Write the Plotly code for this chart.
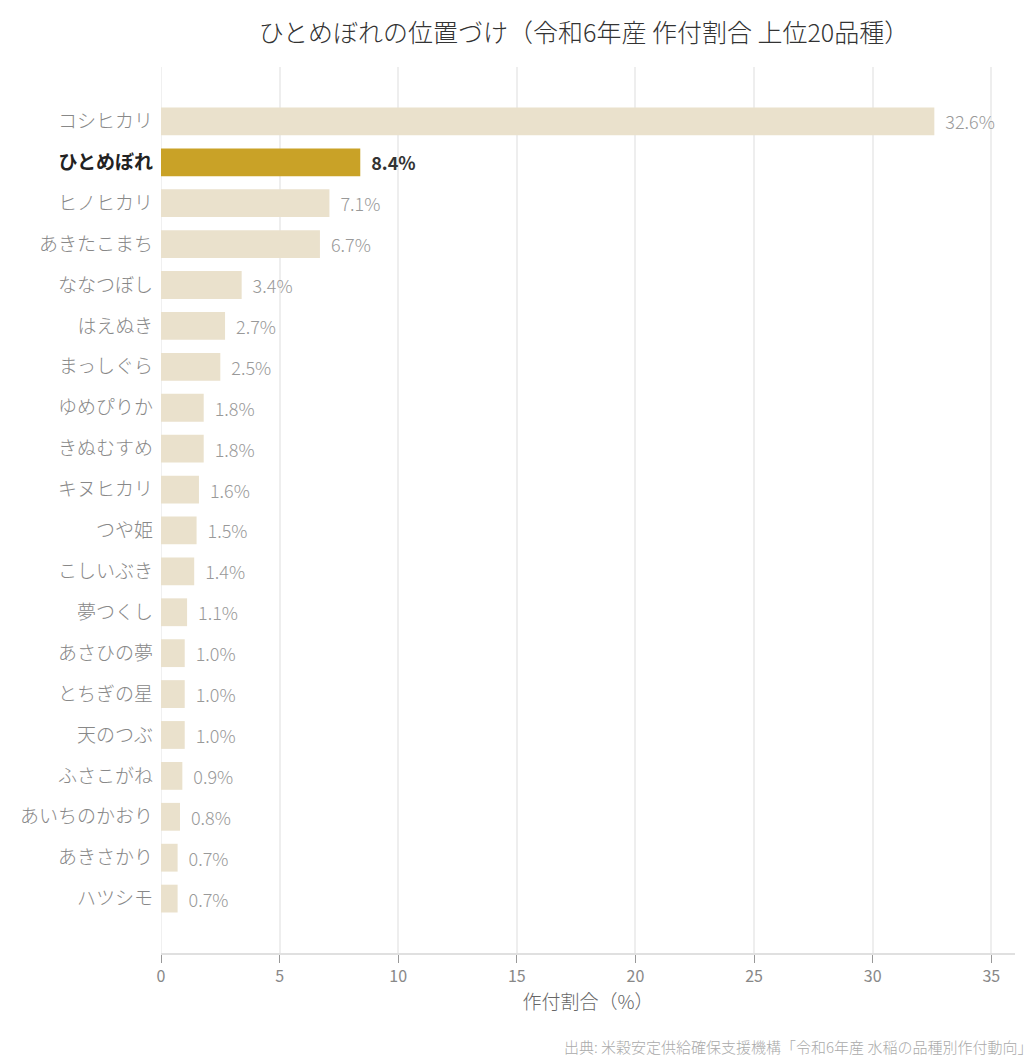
import plotly.graph_objects as go

varieties = ["コシヒカリ", "ひとめぼれ", "ヒノヒカリ", "あきたこまち", "ななつぼし", "はえぬき",
             "まっしぐら", "ゆめぴりか", "きぬむすめ", "キヌヒカリ", "つや姫", "こしいぶき",
             "夢つくし", "あさひの夢", "とちぎの星", "天のつぶ", "ふさこがね", "あいちのかおり",
             "あきさかり", "ハツシモ"]
shares = [32.6, 8.4, 7.1, 6.7, 3.4, 2.7, 2.5, 1.8, 1.8, 1.6, 1.5, 1.4, 1.1, 1.0, 1.0, 1.0,
          0.9, 0.8, 0.7, 0.7]
highlight = "ひとめぼれ"
x_ticks = [0, 5, 10, 15, 20, 25, 30, 35]

FONT = "Noto Sans CJK JP"
HL = "#C9A227"
BASE = "#EAE1CC"

# page has an 8px body offset; compensate so the figure lands where the reference is
OFF = 8
W, H = 1036 - OFF, 1064 - OFF
PLOT_W = 1015 - 161
PLOT_H = 953 - 67

colors = [HL if v == highlight else BASE for v in varieties]
texts = [("&nbsp;&nbsp;<b>%.1f%%</b>" % s) if v == highlight else ("&nbsp;&nbsp;%.1f%%" % s)
         for v, s in zip(varieties, shares)]
text_colors = ["#333333" if v == highlight else "#999999" for v in varieties]
ticktext = [(f'<span style="color:#222222"><b>{v}</b></span>' if v == highlight else v) for v in varieties]

fig = go.Figure(go.Bar(
    x=shares, y=varieties, orientation="h",
    marker=dict(color=colors, line=dict(width=0)),
    width=0.68,
    text=texts, textposition="outside", cliponaxis=False,
    textfont=dict(family=FONT, size=18, color=text_colors, weight=300),
    hoverinfo="skip",
))

fig.update_layout(
    width=W, height=H,
    margin=dict(l=161 - OFF, r=21, t=67 - OFF, b=111),
    paper_bgcolor="white", plot_bgcolor="white",
    font=dict(family=FONT, color="#888888"),
    title=dict(text="ひとめぼれの位置づけ（令和6年産 作付割合 上位20品種）",
               x=(584 - OFF) / W, xanchor="center", y=1 - (33 - OFF) / H, yanchor="middle",
               font=dict(family=FONT, size=25, color="#333333", weight=300)),
    showlegend=False,
    xaxis=dict(range=[0, 36], tickvals=x_ticks, showgrid=True, gridcolor="#EEEEEE", gridwidth=1.5,
               zeroline=True, zerolinecolor="#F0F0F0", zerolinewidth=1,
               showline=True, linecolor="#E0E0E0", linewidth=2,
               ticks="outside", tickcolor="#999999", ticklen=8, tickwidth=1,
               tickfont=dict(family=FONT, size=16, color="#888888"),
               title=dict(text="作付割合（%）", font=dict(family=FONT, size=19, color="#666666", weight=300),
                          standoff=8)),
    yaxis=dict(categoryorder="array", categoryarray=varieties,
               range=[20.33, -1.33], tickmode="array", tickvals=varieties, ticktext=ticktext,
               showgrid=False, showline=False, ticks="", ticklabelstandoff=7,
               tickfont=dict(family=FONT, size=19, color="#888888", weight=300)),
    annotations=[dict(text="出典: 米穀安定供給確保支援機構「令和6年産 水稲の品種別作付動向」",
                      xref="paper", yref="paper", x=1.0 + 19 / PLOT_W, y=-(1046 - 953) / PLOT_H,
                      xanchor="right", yanchor="middle",
                      showarrow=False, font=dict(family=FONT, size=15, color="#AAAAAA", weight=300))],
)

fig.write_html("out.html")
